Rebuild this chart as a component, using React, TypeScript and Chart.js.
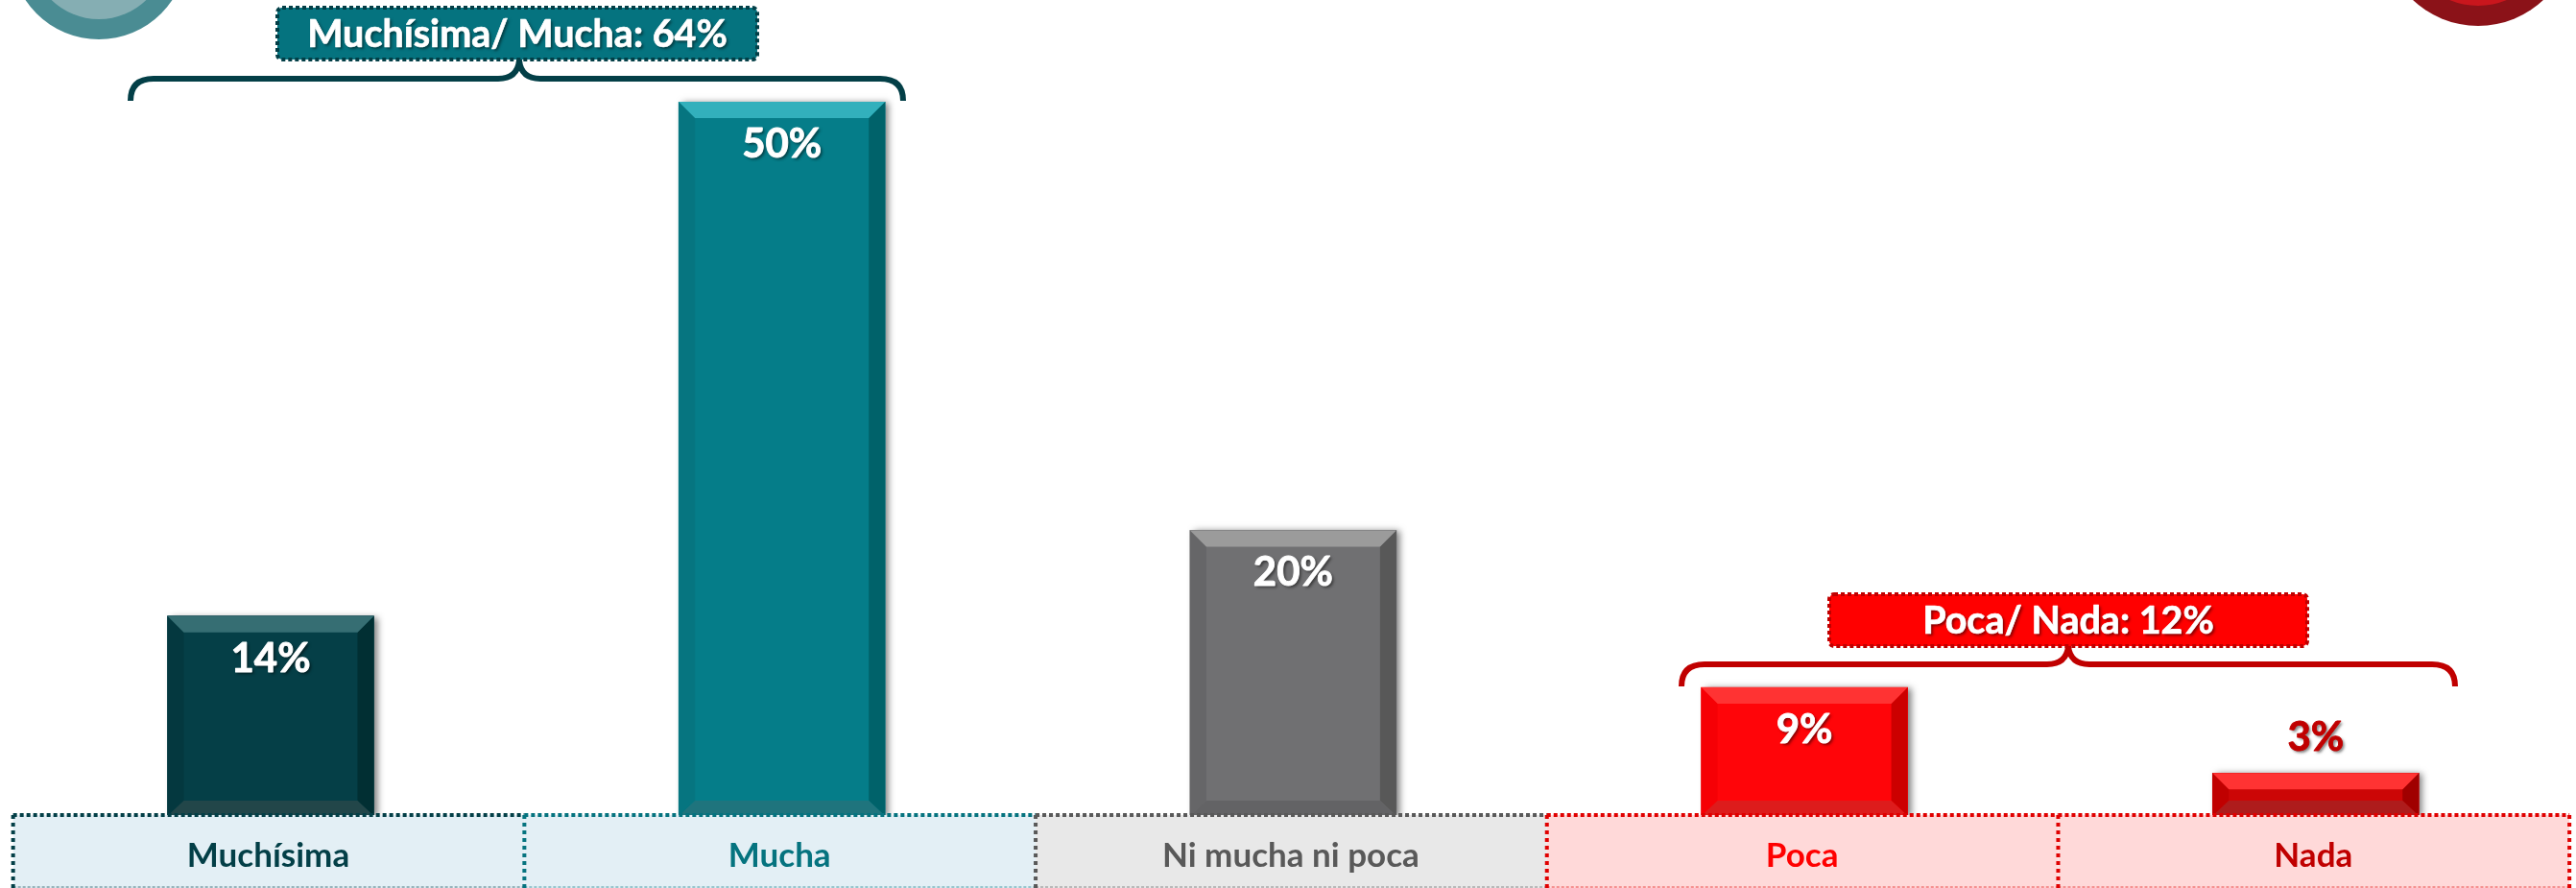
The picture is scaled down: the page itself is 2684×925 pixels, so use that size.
import React, { useEffect, useRef } from "react";
import { Chart, registerables } from "chart.js";

Chart.register(...registerables);

const categories = ["Muchísima", "Mucha", "Ni mucha ni poca", "Poca", "Nada"];
const values = [14, 50, 20, 9, 3];
const mainColors = ["#053F47", "#057D89", "#707072", "#FF0509", "#CC0606"];
const topColors = ["#366E73", "#32B0BC", "#9B9B9B", "#FF3333", "#FF3333"];
const rightColors = ["#012F33", "#00626A", "#585858", "#CC0000", "#A00000"];
const leftColors = ["#04383F", "#067580", "#666668", "#F60005", "#C00000"];
const bottomColors = ["#224649", "#1F747D", "#636365", "#DD1C1C", "#AE1C1C"];
const labelColors = ["#FFFFFF", "#FFFFFF", "#FFFFFF", "#FFFFFF", "#C00000"];
const tickColors = ["#033F47", "#05737F", "#595959", "#FF0000", "#C00000"];
const stripFills = ["#E3EFF5", "#E3EFF5", "#E8E8E8", "#FFD9D9", "#FFD9D9"];
const stripDots = ["#033F47", "#05737F", "#595959", "#E00000", "#E00000"];
const groupLabels = ["Muchísima/ Mucha: 64%", "Poca/ Nada: 12%"];

const FONT = "Lato, Carlito, Calibri, sans-serif";
const BEVEL = 17;

function shadowText(ctx: CanvasRenderingContext2D, text: string, x: number, y: number, color: string, font: string, heavy: number) {
  ctx.save();
  ctx.font = font;
  ctx.textAlign = "center";
  ctx.textBaseline = "middle";
  ctx.fillStyle = color;
  ctx.strokeStyle = color;
  ctx.lineWidth = heavy;
  ctx.lineJoin = "round";
  ctx.shadowColor = "rgba(0,0,0,0.5)";
  ctx.shadowBlur = 3;
  ctx.shadowOffsetX = 2;
  ctx.shadowOffsetY = 2;
  ctx.fillText(text, x, y);
  ctx.shadowColor = "transparent";
  ctx.strokeText(text, x, y);
  ctx.restore();
}

function poly(ctx: CanvasRenderingContext2D, pts: number[][], color: string) {
  ctx.fillStyle = color;
  ctx.beginPath();
  pts.forEach((p, i) => (i ? ctx.lineTo(p[0], p[1]) : ctx.moveTo(p[0], p[1])));
  ctx.closePath();
  ctx.fill();
}

function brace(ctx: CanvasRenderingContext2D, x0: number, x1: number, mid: number, tip: number, color: string) {
  const top = tip + 19;
  const end = tip + 42;
  ctx.save();
  ctx.strokeStyle = color;
  ctx.lineWidth = 6;
  ctx.beginPath();
  ctx.moveTo(x0, end);
  ctx.quadraticCurveTo(x0, top, x0 + 24, top);
  ctx.lineTo(mid - 22, top);
  ctx.quadraticCurveTo(mid - 2, top, mid, tip);
  ctx.quadraticCurveTo(mid + 2, top, mid + 22, top);
  ctx.lineTo(x1 - 24, top);
  ctx.quadraticCurveTo(x1, top, x1, end);
  ctx.stroke();
  ctx.restore();
}

function tagBox(ctx: CanvasRenderingContext2D, x: number, y: number, w: number, h: number, fill: string, dot: string, text: string) {
  ctx.save();
  ctx.fillStyle = fill;
  ctx.beginPath();
  ctx.roundRect(x, y, w, h, 5);
  ctx.fill();
  ctx.strokeStyle = dot;
  ctx.lineWidth = 4;
  ctx.setLineDash([4, 3]);
  ctx.stroke();
  ctx.restore();
  shadowText(ctx, text, x + w / 2, y + h / 2 + 1, "#FFFFFF", `bold 39.5px ${FONT}`, 0.7);
}

function medallion(ctx: CanvasRenderingContext2D, cx: number, cy: number, r: number, color: string) {
  ctx.fillStyle = color;
  ctx.beginPath();
  ctx.arc(cx, cy, r, 0, Math.PI * 2);
  ctx.fill();
}

const decorPlugin = {
  id: "decor",
  beforeDatasetsDraw(chart: any) {
    const ctx = chart.ctx as CanvasRenderingContext2D;
    const meta = chart.getDatasetMeta(0);
    meta.data.forEach((bar: any) => {
      ctx.save();
      ctx.shadowColor = "rgba(0,0,0,0.5)";
      ctx.shadowBlur = 7;
      ctx.shadowOffsetX = 4;
      ctx.shadowOffsetY = 1;
      ctx.fillStyle = "#888";
      ctx.fillRect(bar.x - bar.width / 2, bar.y, bar.width, bar.base - bar.y);
      ctx.restore();
    });
  },
  afterDatasetsDraw(chart: any) {
    const ctx = chart.ctx as CanvasRenderingContext2D;
    const meta = chart.getDatasetMeta(0);
    const xs = chart.scales.x;

    meta.data.forEach((bar: any, i: number) => {
      const l = bar.x - bar.width / 2;
      const r = bar.x + bar.width / 2;
      const t = bar.y;
      const b = bar.base;
      const bb = BEVEL - 1;
      poly(ctx, [[l, t], [l + BEVEL, t + BEVEL], [l + BEVEL, b - bb], [l, b]], leftColors[i]);
      poly(ctx, [[r, t], [r - BEVEL, t + BEVEL], [r - BEVEL, b - bb], [r, b]], rightColors[i]);
      poly(ctx, [[l, t], [r, t], [r - BEVEL, t + BEVEL], [l + BEVEL, t + BEVEL]], topColors[i]);
      poly(ctx, [[l, b], [r, b], [r - BEVEL, b - bb], [l + BEVEL, b - bb]], bottomColors[i]);
    });

    const band = xs.getPixelForValue(1) - xs.getPixelForValue(0);
    const stripTop = chart.chartArea.bottom - 1;
    const stripBottom = chart.height;
    const leftOf = (i: number) => xs.getPixelForValue(i) - band / 2 - 2;
    categories.forEach((_, i) => {
      ctx.fillStyle = stripFills[i];
      ctx.fillRect(leftOf(i), stripTop, band, stripBottom - stripTop);
    });
    categories.forEach((_, i) => {
      const left = leftOf(i);
      ctx.save();
      ctx.strokeStyle = stripDots[i];
      ctx.setLineDash([4, 3]);
      ctx.lineWidth = 4;
      ctx.beginPath();
      ctx.moveTo(left, stripTop);
      ctx.lineTo(left + band, stripTop);
      ctx.stroke();
      ctx.setLineDash([4, 4]);
      ctx.beginPath();
      ctx.moveTo(left, stripTop);
      ctx.lineTo(left, stripBottom);
      if (i === categories.length - 1) {
        ctx.moveTo(left + band, stripTop);
        ctx.lineTo(left + band, stripBottom);
      }
      ctx.stroke();
      ctx.globalAlpha = 0.45;
      ctx.lineWidth = 1.5;
      ctx.setLineDash([3, 2]);
      ctx.beginPath();
      ctx.moveTo(left, stripBottom - 1);
      ctx.lineTo(left + band, stripBottom - 1);
      ctx.stroke();
      ctx.restore();
    });

    meta.data.forEach((bar: any, i: number) => {
      shadowText(ctx, `${values[i]}%`, bar.x, i === 4 ? bar.y - 37 : bar.y + 44.5, labelColors[i], `bold 42px ${FONT}`, 0.9);
    });

    brace(ctx, 136, 941, 541, 63, "#033F47");
    tagBox(ctx, 289, 8, 500, 54, "#05737F", "#033F47", groupLabels[0]);
    brace(ctx, 1752, 2558, 2155, 673, "#C00000");
    tagBox(ctx, 1906, 619, 498, 54, "#FF0000", "#C00000", groupLabels[1]);

    medallion(ctx, 103, -51, 92, "#4A8C93");
    medallion(ctx, 103, -51, 71, "#85AEB3");
    medallion(ctx, 2582, -72, 99, "#8B1218");
    medallion(ctx, 2582, -72, 78, "#C9161D");
  },
};

export default function App() {
  const ref = useRef<HTMLCanvasElement | null>(null);
  useEffect(() => {
    if (!ref.current) return;
    const chart = new Chart(ref.current, {
      type: "bar",
      data: {
        labels: categories,
        datasets: [
          {
            data: values,
            backgroundColor: mainColors,
            borderWidth: 0,
            barThickness: 215,
          },
        ],
      },
      plugins: [decorPlugin],
      options: {
        animation: false,
        responsive: false,
        devicePixelRatio: 1,
        layout: { padding: { left: 15.65, right: 4.85, top: 106, bottom: 0 } },
        plugins: { legend: { display: false }, tooltip: { enabled: false }, title: { display: false } },
        scales: {
          x: {
            grid: { display: false },
            border: { display: false },
            afterFit: (s: any) => {
              s.height = 75;
            },
            ticks: {
              z: 1,
              autoSkip: false,
              maxRotation: 0,
              minRotation: 0,
              padding: 13,
              labelOffset: -2.5,
              color: tickColors,
              font: { family: FONT, size: 35, weight: "bold" },
            },
          },
          y: { display: false, min: 0, max: 50 },
        },
      },
    } as any);
    return () => chart.destroy();
  }, []);
  return (
    <div style={{ position: "fixed", left: 0, top: 0, width: 2684, height: 925, background: "#FFFFFF", overflow: "hidden" }}>
      <canvas ref={ref} width={2684} height={925} style={{ display: "block" }} />
    </div>
  );
}
